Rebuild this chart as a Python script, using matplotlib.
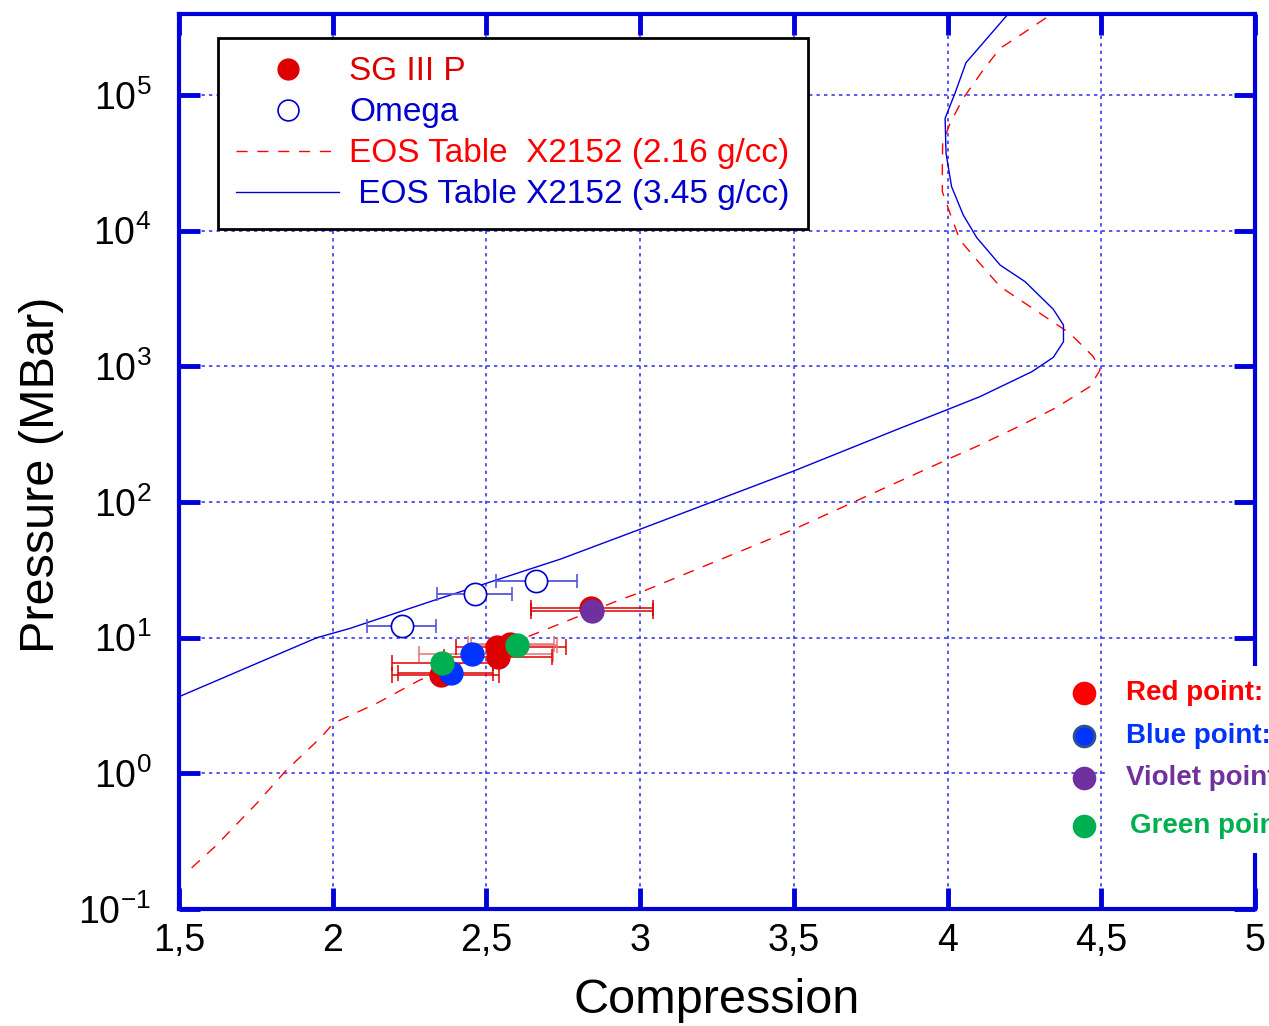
import matplotlib
matplotlib.use('Agg')
import matplotlib.pyplot as plt
from matplotlib.lines import Line2D
from matplotlib.patches import Rectangle
from matplotlib.ticker import FixedLocator, FuncFormatter

plt.rcParams['font.family'] = ['Liberation Sans', 'DejaVu Sans']
plt.rcParams['mathtext.fontset'] = 'custom'
plt.rcParams['mathtext.rm'] = 'Liberation Sans'
plt.rcParams['mathtext.it'] = 'Liberation Sans:italic'
plt.rcParams['mathtext.default'] = 'regular'
plt.rcParams['axes.unicode_minus'] = False

# EOS table X2152, 3.45 g/cc (compression, pressure in MBar)
eos345_x = [1.50, 1.948, 2.056, 2.316, 2.742, 3.002, 3.502, 3.845, 4.002, 4.105,
            4.274, 4.344, 4.377, 4.377, 4.344, 4.252, 4.171, 4.095, 4.051, 4.013,
            3.995, 3.992, 4.024, 4.060, 4.194]
eos345_p = [3.67, 9.98, 11.7, 18.4, 38.0, 63.2, 170, 349, 482, 597,
            912, 1164, 1517, 2014, 2630, 4207, 5572, 8872, 13030, 21090,
            37150, 67300, 102800, 173000, 388000]

# EOS table X2152, 2.16 g/cc
eos216_x = [1.541, 1.617, 1.753, 1.850, 1.964, 2.002, 2.143, 2.284, 2.934, 3.002,
            3.502, 4.002, 4.100, 4.219, 4.349, 4.463, 4.496, 4.474, 4.398, 4.301,
            4.171, 4.095, 4.040, 4.008, 3.983, 3.983, 3.984, 4.008, 4.051, 4.116,
            4.171, 4.246, 4.339]
eos216_p = [0.201, 0.288, 0.601, 1.06, 1.86, 2.34, 3.28, 4.88, 19.0, 21.6,
            63.2, 207, 260, 349, 490, 708, 940, 1178, 1750, 2455,
            3864, 6081, 8531, 13430, 19360, 29580, 44060, 61800, 94600, 152800,
            220800, 285100, 395400]

# SG III P shots
sg_x = [2.352, 2.384, 2.354, 2.452, 2.539, 2.533, 2.578, 2.598, 2.841, 2.845]
sg_p = [5.3, 5.5, 6.5, 7.6, 7.25, 8.6, 9.0, 8.9, 16.4, 15.8]
sg_xlo = [2.192, 2.211, 2.192, 2.282, 2.362, 2.400, 2.440, 2.450, 2.645, 2.645]
sg_xhi = [2.541, 2.520, 2.520, 2.718, 2.714, 2.760, 2.720, 2.730, 3.043, 3.043]
sg_col = ['#dd0000', '#0033ff', '#00b050', '#0033ff', '#dd0000', '#dd0000',
          '#dd0000', '#00b050', '#dd0000', '#7030a0']
sg_ecol = ['#dd0000', '#dd0000', '#dd0000', '#e87070', '#dd0000', '#dd0000',
           '#e87070', '#e87070', '#dd0000', '#dd0000']

# Omega shots
om_x = [2.224, 2.462, 2.660]
om_p = [12.2, 21.1, 26.3]
om_xlo = [2.113, 2.340, 2.530]
om_xhi = [2.335, 2.584, 2.795]

key_labels = ['Red point:', 'Blue point:', 'Violet point', 'Green point']
key_colors = ['#ff0000', '#0033ff', '#7030a0', '#00b050']
key_edges = ['#ff0000', '#2f528f', '#7030a0', '#00b050']

spine_blue = '#0000dd'

fig = plt.figure(figsize=(12.69, 10.26), dpi=100)
ax = fig.add_axes([179/1269, 1-909/1026, 1076/1269, 895/1026])
ax.set_yscale('log')
ax.set_xlim(1.5, 5)
ax.set_ylim(0.1, 3.95e5)

ax.plot(eos216_x, eos216_p, color='#ff0000', lw=1.0, dashes=(8, 7), zorder=2)
ax.plot(eos345_x, eos345_p, color='#0000dd', lw=1.0, zorder=2)

for x, p, lo, hi in zip(om_x, om_p, om_xlo, om_xhi):
    ax.errorbar([x], [p], xerr=[[x - lo], [hi - x]], fmt='o', ms=16,
                mfc='white', mec='#0000cc', mew=1.2, ecolor='#5555dd',
                elinewidth=1.3, capsize=5, capthick=1.3, zorder=4)

for i in range(len(sg_x)):
    x, p = sg_x[i], sg_p[i]
    ax.errorbar([x], [p], xerr=[[x - sg_xlo[i]], [sg_xhi[i] - x]], fmt='none',
                ecolor=sg_ecol[i], elinewidth=1.1, capsize=6, capthick=1.1,
                zorder=3)
for i in range(len(sg_x)):
    ax.plot(sg_x[i], sg_p[i], 'o', ms=16.5, color=sg_col[i], mec=sg_col[i],
            zorder=5)

# axes styling
xt = [1.5, 2, 2.5, 3, 3.5, 4, 4.5, 5]
ax.xaxis.set_major_locator(FixedLocator(xt))
ax.xaxis.set_major_formatter(FuncFormatter(lambda v, pos: f'{v:g}'.replace('.', ',')))
ax.yaxis.set_major_locator(FixedLocator([1e-1, 1, 1e1, 1e2, 1e3, 1e4, 1e5]))
ax.yaxis.set_minor_locator(FixedLocator([]))
for s in ax.spines.values():
    s.set_color(spine_blue)
    s.set_linewidth(3)
ax.tick_params(which='major', direction='in', length=15, width=3.5,
               color=spine_blue, top=True, right=True, labelsize=27)
ax.tick_params(axis='x', pad=10)
ax.tick_params(axis='y', pad=20)
ax.grid(True, color='#3a3aee', ls=(0, (2, 2.5)), lw=1.2)

ax.set_xlabel('Compression', fontsize=35, labelpad=14)
ax.set_ylabel('Pressure (MBar)', fontsize=35)
ax.yaxis.set_label_coords(-0.107, 0.485)

handles = [
    Line2D([], [], ls='none', marker='o', ms=15, color='#dd0000'),
    Line2D([], [], ls='none', marker='o', ms=15, mfc='white', mec='#0000cc', mew=1.2),
    Line2D([], [], color='#ff0000', lw=1.0, dashes=(8, 7)),
    Line2D([], [], color='#0000cc', lw=1.0),
]
labels = ['SG III P', 'Omega', 'EOS Table  X2152 (2.16 g/cc)', ' EOS Table X2152 (3.45 g/cc)']
leg = ax.legend(handles, labels, loc='upper left', bbox_to_anchor=(0.036, 0.973),
                fontsize=24, frameon=True, fancybox=False, edgecolor='black',
                framealpha=1, borderpad=0.55, labelspacing=0.3, handlelength=3.1,
                handletextpad=0.3, borderaxespad=0,
                labelcolor=['#dd0000', '#0000cc', '#ff0000', '#0000cc'])
leg.get_frame().set_linewidth(2)
leg.set_zorder(6)

# white panel behind the colour key on the right
fig.patches.append(Rectangle((1108/1269, 1-853/1026), 161/1269, 187/1026,
                             transform=fig.transFigure, facecolor='white',
                             edgecolor='none', zorder=10))
key_y = [0.2413, 0.1933, 0.1464, 0.0927]
for lab, c, ec, y in zip(key_labels, key_colors, key_edges, key_y):
    fig.add_artist(Line2D([1084/1269], [1-(909-y*895)/1026], ls='none', marker='o',
                          ms=15, color=c, mec=ec, mew=2, zorder=11))
    fig.text(1126/1269 if lab[0] != 'G' else 1130/1269, 1-(909-y*895)/1026, lab,
             color=c, fontsize=20, fontweight='bold', va='center', ha='left',
             zorder=12)

fig.savefig('out.png', dpi=100)
